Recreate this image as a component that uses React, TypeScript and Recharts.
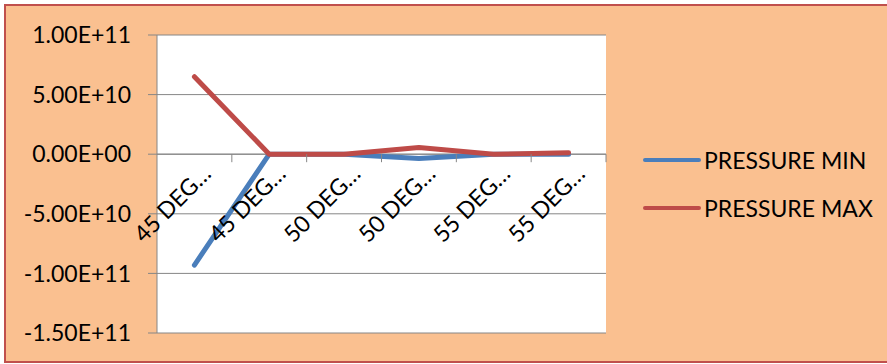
import React from "react";
import {
  LineChart,
  Line,
  XAxis,
  YAxis,
  CartesianGrid,
  ReferenceLine,
  Legend,
} from "recharts";

// Category labels as shown on the axis (truncated names)
const categories = ["45 DEG…", "45 DEG…", "50 DEG…", "50 DEG…", "55 DEG…", "55 DEG…"];
const pressureMin = [-9.3e10, 0, 0, -3.6e9, 0, 0];
const pressureMax = [6.5e10, 0, 0, 5.6e9, 0, 1.2e9];
const yTicks = [-1.5e11, -1e11, -5e10, 0, 5e10, 1e11];
const seriesNames = ["PRESSURE MIN", "PRESSURE MAX"];

const data = categories.map((label, i) => ({
  label,
  min: pressureMin[i],
  max: pressureMax[i],
}));

const CHART_W = 887;
const CHART_H = 364;
const MARGIN = { top: 35, right: 281, bottom: 0, left: 0 };
const Y_AXIS_W = 157;
const X_AXIS_H = 31;
const PLOT_W = CHART_W - MARGIN.left - MARGIN.right - Y_AXIS_W;
const PLOT_H = CHART_H - MARGIN.top - MARGIN.bottom - X_AXIS_H;
const Y_MIN = yTicks[0];
const Y_MAX = yTicks[yTicks.length - 1];
// vertical position of the zero line, where the category axis sits
const ZERO_Y = MARGIN.top + (PLOT_H * Y_MAX) / (Y_MAX - Y_MIN);
const BAND_W = PLOT_W / categories.length;

const FONT = "Lato, 'Open Sans', sans-serif";
const FONT_SIZE = 23;
const GRID = "#868686";
const BLUE = "#4A7EBB";
const RED = "#BE4B48";

function sci(v: number): string {
  if (v === 0) return "0.00E+00";
  const [m, e] = v.toExponential(2).split("e");
  const n = parseInt(e, 10);
  const sign = n < 0 ? "-" : "+";
  const digits = String(Math.abs(n)).padStart(2, "0");
  return `${m}E${sign}${digits}`;
}

function CategoryTick(props: any) {
  const { x, payload } = props;
  const tx = x + 18;
  const ty = ZERO_Y + 21;
  const boundary = x + BAND_W / 2;
  return (
    <g>
      <line x1={boundary} y1={ZERO_Y} x2={boundary} y2={ZERO_Y + 8} stroke={GRID} strokeWidth={1} />
      <text
        x={tx}
        y={ty}
        transform={`rotate(-45, ${tx}, ${ty})`}
        textAnchor="end"
        fontFamily={FONT}
        fontSize={FONT_SIZE}
        fill="#000"
      >
        {payload.value}
      </text>
    </g>
  );
}

function LegendContent(props: any) {
  const items = [...(props.payload || [])].sort(
    (a: any, b: any) => seriesNames.indexOf(a.value) - seriesNames.indexOf(b.value)
  );
  return (
    <div style={{ fontFamily: FONT, fontSize: FONT_SIZE, color: "#000" }}>
      {items.map((entry: any) => (
        <div key={entry.value} style={{ display: "flex", alignItems: "center", height: 48 }}>
          <svg width={62} height={8} style={{ display: "block" }}>
            <line x1={3} y1={4} x2={57} y2={4} stroke={entry.color} strokeWidth={4} strokeLinecap="round" />
          </svg>
          <span style={{ lineHeight: "26px", whiteSpace: "nowrap" }}>{entry.value}</span>
        </div>
      ))}
    </div>
  );
}

export default function App() {
  return (
    <div
      style={{
        position: "absolute",
        left: 0,
        top: 0,
        width: CHART_W,
        height: CHART_H,
        overflow: "hidden",
        background: "#ffffff",
      }}
    >
      <div
        style={{
          position: "absolute",
          left: 4,
          top: 4,
          width: 883,
          height: 359,
          boxSizing: "border-box",
          background: "#FAC090",
          border: "2px solid #C0504D",
          borderRight: "none",
        }}
      />
      <div style={{ position: "absolute", left: 0, top: 0 }}>
        <LineChart width={CHART_W} height={CHART_H} data={data} margin={MARGIN}>
          <CartesianGrid vertical={false} stroke={GRID} fill="#ffffff" />
          <XAxis
            dataKey="label"
            height={X_AXIS_H}
            axisLine={false}
            tickLine={false}
            interval={0}
            padding={{ left: BAND_W / 2, right: BAND_W / 2 }}
            tick={<CategoryTick />}
          />
          <YAxis
            width={Y_AXIS_W}
            domain={[Y_MIN, Y_MAX]}
            ticks={yTicks}
            tickFormatter={sci}
            tickSize={9}
            tickMargin={17}
            axisLine={{ stroke: GRID }}
            tickLine={{ stroke: GRID }}
            tick={{ fill: "#000", fontFamily: FONT, fontSize: FONT_SIZE }}
            interval={0}
          />
          <ReferenceLine y={0} stroke={GRID} strokeWidth={1} />
          <Line
            type="linear"
            dataKey="min"
            name={seriesNames[0]}
            stroke={BLUE}
            strokeWidth={5}
            strokeLinecap="round"
            strokeLinejoin="round"
            dot={false}
            isAnimationActive={false}
          />
          <Line
            type="linear"
            dataKey="max"
            name={seriesNames[1]}
            stroke={RED}
            strokeWidth={5}
            strokeLinecap="round"
            strokeLinejoin="round"
            dot={false}
            isAnimationActive={false}
          />
          <Legend
            layout="vertical"
            align="center"
            verticalAlign="middle"
            content={<LegendContent />}
            wrapperStyle={{ position: "absolute", left: 642, top: 136, width: 240 }}
          />
        </LineChart>
      </div>
    </div>
  );
}
